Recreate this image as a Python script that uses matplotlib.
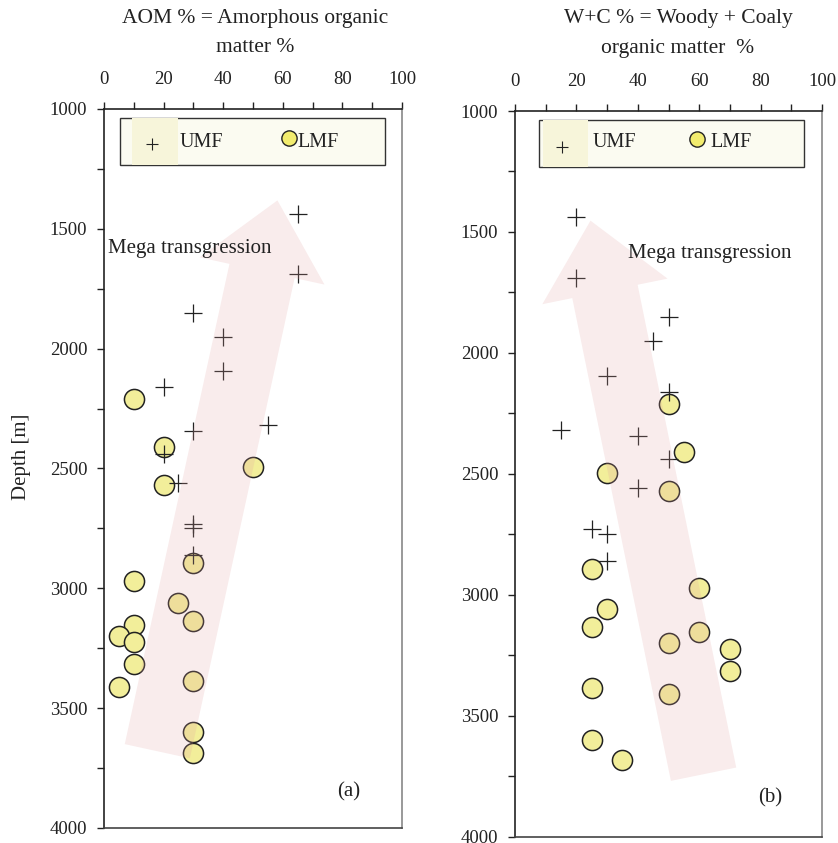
import matplotlib
matplotlib.use('Agg')
import matplotlib.pyplot as plt
from matplotlib.patches import Rectangle, FancyArrowPatch
from matplotlib.ticker import MultipleLocator

plt.rcParams['font.family'] = ['Liberation Serif', 'DejaVu Serif']

# upper member (UMF) samples
umf_depth = [1440, 1690, 1850, 1950, 2095, 2160, 2320, 2345, 2440, 2560, 2730, 2750, 2860]
umf_aom = [65, 65, 30, 40, 40, 20, 55, 30, 20, 25, 30, 30, 30]
umf_wc = [20, 20, 50, 45, 30, 50, 15, 40, 50, 40, 25, 30, 30]

# lower member (LMF) samples
lmf_depth = [2210, 2410, 2495, 2570, 2895, 2970, 3060, 3135, 3155, 3200, 3225, 3315,
             3385, 3410, 3600, 3685]
lmf_aom = [10, 20, 50, 20, 30, 10, 25, 30, 10, 5, 10, 10, 30, 5, 30, 30]
lmf_wc = [50, 55, 30, 50, 25, 60, 30, 25, 60, 50, 70, 70, 25, 50, 25, 35]

titles = [('AOM % = Amorphous organic', 'matter %'),
          ('W+C % = Woody + Coaly', 'organic matter  %')]
title_x = [0.304, 0.809]
tags = ['(a)', '(b)']
tag_pos = [(0.82, 0.05), (0.83, 0.053)]

# arrow tail -> head, in data units (x %, depth m)
arrows = [((17.7, 3691), (58.4, 1370)), ((61.6, 3753), (24.4, 1442))]
mega_pos = [(1.3, 1580), (36.8, 1591)]

circle_fc = '#f2ee9a'
dark = '#222222'

fig = plt.figure(figsize=(8.38, 8.43), dpi=100)
ax1 = fig.add_axes([0.1241, 0.0178, 0.3556, 0.8529])
ax2 = fig.add_axes([0.6146, 0.0075, 0.3663, 0.8608])


def legend_box(ax, box, patch, plus_xy, circ_xy, umf_x, lmf_x, ty):
    ax.add_patch(Rectangle((box[0], box[1]), box[2] - box[0], box[3] - box[1],
                           transform=ax.transAxes, facecolor='#fbfbf1',
                           edgecolor='#333333', lw=1.0, zorder=6))
    ax.add_patch(Rectangle((patch[0], box[1]), patch[1] - patch[0], box[3] - box[1],
                           transform=ax.transAxes, facecolor='#f7f5da',
                           edgecolor='none', zorder=6.1))
    ax.plot([plus_xy[0]], [plus_xy[1]], marker='+', ms=8, mew=0.8, color=dark,
            transform=ax.transAxes, zorder=7, clip_on=False)
    ax.plot([circ_xy[0]], [circ_xy[1]], marker='o', ms=11, mew=1.0, mfc='#f2ec6e',
            mec=dark, transform=ax.transAxes, zorder=7, clip_on=False)
    ax.text(umf_x, ty, 'UMF', transform=ax.transAxes, fontsize=14.5, va='center',
            color=dark, zorder=7)
    ax.text(lmf_x, ty, 'LMF', transform=ax.transAxes, fontsize=14.5, va='center',
            color=dark, zorder=7)


for i, (ax, umf_x, lmf_x) in enumerate([(ax1, umf_aom, lmf_aom), (ax2, umf_wc, lmf_wc)]):
    ax.scatter(lmf_x, lmf_depth, s=210, facecolor=circle_fc, edgecolor=dark,
               linewidth=1.1, zorder=3)
    ax.scatter(umf_x, umf_depth, s=150, marker='+', color=dark, linewidth=0.9, zorder=4)

    tail, head = arrows[i]
    ax.add_patch(FancyArrowPatch(tail, head, transform=ax.transData,
                                 arrowstyle='simple,tail_width=48,head_width=92,head_length=52',
                                 mutation_scale=1, facecolor='#e1a0a0', edgecolor='none',
                                 alpha=0.2, zorder=5))

    ax.text(mega_pos[i][0], mega_pos[i][1], 'Mega transgression', fontsize=15,
            va='center', ha='left', color=dark, zorder=6)
    ax.text(tag_pos[i][0], tag_pos[i][1], tags[i], transform=ax.transAxes,
            fontsize=15, color=dark, va='center', ha='center')

    ax.set_xlim(0, 100)
    ax.set_ylim(4000, 1000)
    ax.xaxis.tick_top()
    ax.xaxis.set_major_locator(MultipleLocator(20))
    ax.xaxis.set_minor_locator(MultipleLocator(10))
    ax.yaxis.set_major_locator(MultipleLocator(500))
    ax.yaxis.set_minor_locator(MultipleLocator(250))
    ax.tick_params(axis='x', which='both', direction='out', length=5, width=1,
                   color=dark, labelsize=13.5, pad=10, labelcolor=dark)
    ax.tick_params(axis='y', which='both', direction='out', length=5, width=1,
                   color=dark, labelsize=13.5, pad=7, labelcolor=dark)
    ax.spines['left'].set_color(dark)
    ax.spines['top'].set_color(dark)
    ax.spines['bottom'].set_color('#444444')
    ax.spines['right'].set_color('#888888')
    for s in ax.spines.values():
        s.set_linewidth(1.2)

    fig.text(title_x[i], 1 - 18 / 843, titles[i][0], ha='center', va='center',
             fontsize=15.5, color=dark)
    fig.text(title_x[i], 1 - 48 / 843, titles[i][1], ha='center', va='center',
             fontsize=15.5, color=dark)

legend_box(ax1, (0.054, 0.922, 0.943, 0.987), (0.093, 0.249), (0.160, 0.951),
           (0.621, 0.959), 0.255, 0.648, 0.954)
legend_box(ax2, (0.078, 0.923, 0.941, 0.987), (0.091, 0.238), (0.152, 0.951),
           (0.592, 0.961), 0.254, 0.635, 0.956)

fig.text(0.026, 0.458, 'Depth [m]', rotation=90, ha='center', va='center',
         fontsize=15, color=dark)

fig.savefig('out.png', dpi=100)
